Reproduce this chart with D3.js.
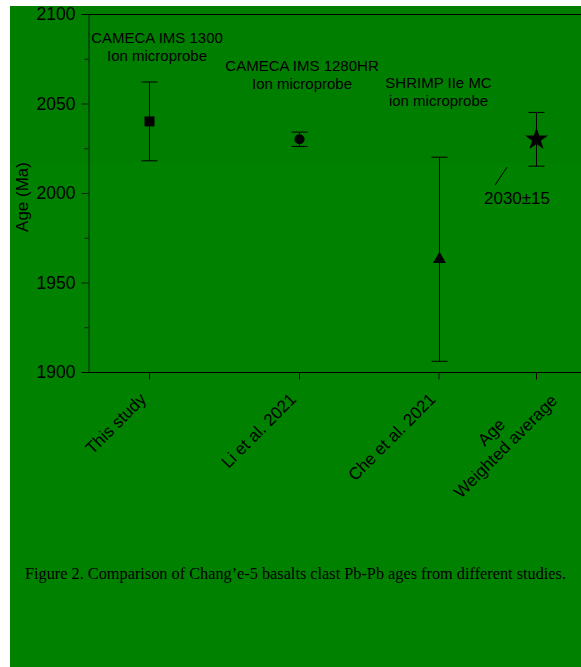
<!DOCTYPE html>
<html>
<head>
<meta charset="utf-8">
<script src="https://cdn.jsdelivr.net/npm/d3@7"></script>
<style>
  html, body { margin: 0; padding: 0; background: #ffffff; }
  svg { display: block; }
  text { font-family: "Liberation Sans", Arial, sans-serif; fill: #000; }
  text.caption { font-family: "Liberation Serif", "Times New Roman", serif; }
</style>
</head>
<body>
<svg id="chart" width="581" height="667"></svg>
<script>
// Pb-Pb ages (Ma) of Chang'e-5 basalt clasts from different studies
const categories = ["This study", "Li et al. 2021", "Che et al. 2021", "Age\nWeighted average"];
const xValues = [1, 2, 2.93, 3.58];
const ages = [2040, 2030, 1963, 2030];
const errors = [22, 4, 57, 15];
const markers = ["square", "circle", "triangle", "star"];
const instruments = [
  ["CAMECA IMS 1300", "Ion microprobe"],
  ["CAMECA IMS 1280HR", "Ion microprobe"],
  ["SHRIMP IIe MC", "ion microprobe"]
];
const yTicks = [1900, 1950, 2000, 2050, 2100];
const yMinorTicks = [1925, 1975, 2025, 2075];
const averageLabel = "2030±15";
const yTitle = "Age (Ma)";
const caption = "Figure 2. Comparison of Chang’e-5 basalts clast Pb-Pb ages from different studies.";

const svg = d3.select("#chart");

// page background
svg.append("rect").attr("x", 10).attr("y", 6).attr("width", 571).attr("height", 661).attr("fill", "#008200");
svg.append("rect").attr("x", 10).attr("y", 6).attr("width", 571).attr("height", 157).attr("fill", "#007e00");

const plot = { left: 88, right: 581, top: 14, bottom: 372 };

const x = d3.scaleLinear().domain([0.593, 3.88]).range([plot.left, plot.right]);
const y = d3.scaleLinear().domain([1900, 2100]).range([plot.bottom, plot.top]);

// frame: top line
svg.append("line").attr("x1", plot.left).attr("x2", plot.right)
  .attr("y1", plot.top + 0.5).attr("y2", plot.top + 0.5)
  .attr("stroke", "#000").attr("stroke-width", 1);

// y axis
const yAxis = svg.append("g").attr("transform", `translate(${plot.left + 0.5},0)`)
  .call(d3.axisLeft(y).tickValues(yTicks).tickSize(7).tickPadding(6).tickFormat(d3.format("d")));
yAxis.select(".domain").attr("stroke", "#000").attr("stroke-opacity", 0.75);
yAxis.selectAll(".tick line").attr("stroke", "#000").attr("stroke-opacity", 0.75);
yAxis.selectAll(".tick text").attr("font-size", "17.5px")
  .attr("font-family", null).attr("fill", "#000");

const yMinor = svg.append("g").attr("transform", `translate(${plot.left + 0.5},0)`)
  .call(d3.axisLeft(y).tickValues(yMinorTicks).tickSize(4).tickFormat(""));
yMinor.select(".domain").remove();
yMinor.selectAll(".tick line").attr("stroke", "#000").attr("stroke-opacity", 0.75);

// y title
svg.append("text")
  .attr("transform", `translate(28,${(y(1900) + y(2100)) / 2 + 4}) rotate(-90)`)
  .attr("text-anchor", "middle").attr("font-size", "17px").text(yTitle);

// x axis
const xAxis = svg.append("g").attr("transform", `translate(0,${plot.bottom + 0.5})`)
  .call(d3.axisBottom(x).tickValues(xValues).tickSize(7).tickFormat(""));
xAxis.select(".domain").attr("stroke", "#000").attr("d", `M${plot.left},0H${plot.right}`);
xAxis.selectAll(".tick line").attr("stroke", "#000");

// rotated category labels
categories.forEach((c, i) => {
  const lines = c.split("\n");
  const g = svg.append("g").attr("transform", `translate(${x(xValues[i]) - 6},${plot.bottom + 24}) rotate(-45)`);
  const t = g.append("text").attr("font-size", "17px").attr("text-anchor", "end");
  if (lines.length === 1) {
    t.append("tspan").attr("x", 0).attr("dy", "0.35em").text(lines[0]);
  } else {
    // multi-line label: lines centred on each other, block right-aligned to the tick
    const tmp = g.append("text").attr("font-size", "17px");
    const wMax = d3.max(lines, l => { tmp.text(l); return tmp.node().getComputedTextLength(); });
    tmp.remove();
    t.attr("text-anchor", "middle");
    lines.forEach((l, k) => {
      t.append("tspan").attr("x", -wMax / 2 + 16).attr("y", (k - (lines.length - 1)) * 20 + 24).text(l);
    });
  }
});

// error bars
const cap = 8;
const bars = svg.append("g").attr("stroke", "#000").attr("stroke-width", 1);
ages.forEach((a, i) => {
  const cx = Math.round(x(xValues[i])) + 0.5;
  const yTop = y(a + errors[i]), yBot = y(a - errors[i]);
  bars.append("line").attr("x1", cx).attr("x2", cx).attr("y1", yTop).attr("y2", yBot);
  bars.append("line").attr("x1", cx - cap).attr("x2", cx + cap).attr("y1", yTop).attr("y2", yTop);
  bars.append("line").attr("x1", cx - cap).attr("x2", cx + cap).attr("y1", yBot).attr("y2", yBot);
});

// markers
const symbolFor = {
  square: d3.symbol(d3.symbolSquare, 100),
  circle: d3.symbol(d3.symbolCircle, 80),
  triangle: d3.symbol(d3.symbolTriangle, 73),
  star: d3.symbol(d3.symbolStar, 165)
};
svg.append("g").selectAll("path").data(ages).join("path")
  .attr("transform", (d, i) => `translate(${Math.round(x(xValues[i])) + 0.5},${y(d)})`)
  .attr("d", (d, i) => symbolFor[markers[i]]())
  .attr("fill", "#000");

// instrument annotations
const annPos = [[8, 43], [3, 71], [0, 88]];
instruments.forEach((lines, i) => {
  const t = svg.append("text").attr("text-anchor", "middle").attr("font-size", "15px");
  lines.forEach((l, k) => {
    t.append("tspan").attr("x", x(xValues[i]) + annPos[i][0]).attr("y", annPos[i][1] + k * 18).text(l);
  });
});

// weighted average callout
const ax = x(xValues[3]), ay = y(ages[3] - errors[3]);
svg.append("line").attr("x1", ax - 29).attr("y1", ay + 1).attr("x2", ax - 41).attr("y2", ay + 19)
  .attr("stroke", "#000").attr("stroke-width", 1);
svg.append("text").attr("x", ax - 19).attr("y", ay + 38).attr("text-anchor", "middle")
  .attr("font-size", "17px").text(averageLabel);

// caption
svg.append("text").attr("class", "caption").attr("x", 25).attr("y", 579)
  .attr("font-size", "16.3px").text(caption);
</script>
</body>
</html>
